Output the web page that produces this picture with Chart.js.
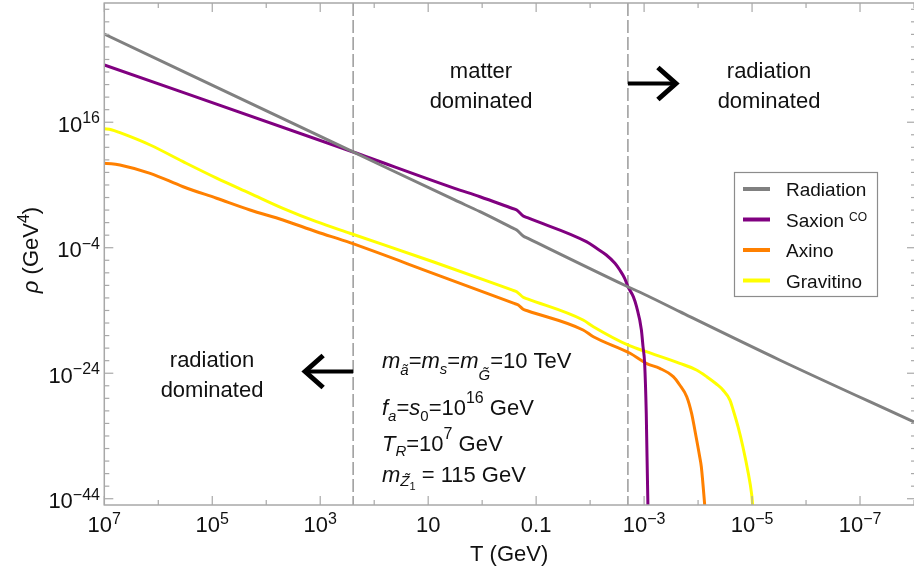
<!DOCTYPE html>
<html>
<head>
<meta charset="utf-8">
<script src="https://cdn.jsdelivr.net/npm/chart.js@4.4.0/dist/chart.umd.min.js"></script>
<style>
  body { margin: 0; background: #fff; }
  #wrap { width: 914px; height: 575px; }
</style>
</head>
<body>
<div id="wrap"><canvas id="rho" width="914" height="575"></canvas></div>
<script>
// energy densities vs temperature, stored as log10 T (GeV) and log10 rho (GeV^4)
const radLogT   = [7, 2.39, 0.51, 0.04, -0.55, -0.64, -0.76, -0.85, -2.67, -3.07, -3.66, -5.51, -8];
const radLogRho = [30.06, 11.26, 3.61, 1.74, -0.79, -1.18, -2.13, -2.51, -10.10, -11.69, -14.19, -21.89, -31.77];

const saxLogT   = [7, 2.39, 0.51, 0.04, -0.55, -0.64, -0.76, -0.85, -1.93, -2.12, -2.30, -2.46, -2.55, -2.64, -2.70, -2.80, -2.86, -2.95, -2.98, -3.01, -3.04, -3.07, -3.08];
const saxLogRho = [25.12, 11.26, 5.47, 4.13, 2.29, 2.01, 1.06, 0.74, -3.04, -4.09, -5.16, -6.48, -7.55, -8.87, -10.21, -11.80, -13.40, -17.11, -19.77, -22.42, -30.39, -44.73, -47];

const axiLogT   = [7, 6.87, 6.71, 6.15, 5.54, 4.92, 4.30, 3.69, 3.07, 2.45, 0.91, -0.58, -0.67, -0.76, -0.85, -1.87, -2.06, -2.74, -3.04, -3.29, -3.54, -3.66, -3.79, -3.88, -3.94, -4.03, -4.06, -4.12, -4.14];
const axiLogRho = [9.45, 9.40, 9.18, 7.86, 5.72, 3.88, 2.01, 0.42, -1.45, -3.20, -8.08, -12.84, -13.13, -13.81, -14.08, -17.11, -18.18, -20.82, -22.42, -23.22, -24.55, -25.88, -27.74, -30.39, -33.05, -37.30, -38.90, -44.73, -47];

const graLogT   = [7, 6.87, 6.71, 6.15, 5.54, 4.92, 4.30, 3.69, 3.07, 2.45, 0.91, -0.55, -0.64, -0.76, -0.85, -1.87, -2.06, -2.74, -3.04, -3.66, -3.97, -4.16, -4.34, -4.46, -4.59, -4.65, -4.74, -4.83, -4.93, -4.99, -5.01, -5.02];
const graLogRho = [14.95, 14.80, 14.33, 12.37, 9.71, 7.09, 4.67, 2.28, 0.15, -1.70, -6.23, -10.73, -11.01, -11.90, -12.19, -15.52, -16.59, -19.66, -20.57, -22.42, -23.49, -24.55, -25.72, -26.67, -28.27, -29.86, -32.52, -35.71, -39.95, -43.14, -45, -47];

const seriesNames = ['Radiation', 'Saxion', 'Axino', 'Gravitino'];
const seriesSup   = ['', 'CO', '', ''];
const seriesColors = ['#808080', '#800080', '#ff8000', '#ffff00'];

// matter / radiation domination boundaries, log10 T
const boundaryLogT = [2.39, -2.70];

// axis ticks (log10) and their labels [base, exponent]
const xMajor = [7, 5, 3, 1, -1, -3, -5, -7];
const xTickLabels = [['10', '7'], ['10', '5'], ['10', '3'], ['10', ''], ['0.1', ''], ['10', '\u22123'], ['10', '\u22125'], ['10', '\u22127']];
const yMajor = [16, -4, -24, -44];
const yTickLabels = [['10', '16'], ['10', '\u22124'], ['10', '\u221224'], ['10', '\u221244']];

const FAM = '"Liberation Sans", Arial, sans-serif';
function fnt(size, italic) { return (italic ? 'italic ' : '') + size + 'px ' + FAM; }

function pts(xs, ys) { return xs.map((v, i) => ({ x: v, y: ys[i] })); }

// draw a run of [text, font, dy] pieces starting at x (or centred / right-aligned)
function runs(ctx, x, y, parts, align) {
  let w = 0;
  parts.forEach(p => { ctx.font = p[1]; w += ctx.measureText(p[0]).width; });
  let cx = align === 'center' ? x - w / 2 : align === 'right' ? x - w : x;
  parts.forEach(p => {
    ctx.font = p[1];
    ctx.fillText(p[0], cx, y + (p[2] || 0));
    cx += ctx.measureText(p[0]).width;
  });
}

function seg(ctx, x1, y1, x2, y2) {
  ctx.beginPath(); ctx.moveTo(x1, y1); ctx.lineTo(x2, y2); ctx.stroke();
}

function arrow(ctx, x0, y, dir) {
  ctx.save();
  ctx.strokeStyle = '#000';
  ctx.lineCap = 'butt';
  ctx.lineJoin = 'miter';
  ctx.lineWidth = 4;
  seg(ctx, x0, y, x0 + dir * 46, y);
  ctx.lineWidth = 5;
  ctx.beginPath();
  ctx.moveTo(x0 + dir * 30, y - 16);
  ctx.lineTo(x0 + dir * 48, y);
  ctx.lineTo(x0 + dir * 30, y + 16);
  ctx.stroke();
  ctx.restore();
}

const decor = {
  id: 'decor',
  beforeDatasetsDraw(chart) {
    const { ctx, chartArea: a, scales: { x } } = chart;
    ctx.save();
    ctx.strokeStyle = '#a0a0a0';
    ctx.lineWidth = 1.6;
    ctx.setLineDash([13, 4]);
    boundaryLogT.forEach(v => {
      const px = x.getPixelForValue(v);
      seg(ctx, px, a.top, px, a.bottom);
    });
    ctx.restore();
  },
  afterDraw(chart) {
    const { ctx, chartArea: a, scales: { x, y } } = chart;
    const right = a.right + 2;
    ctx.save();

    // frame and inward ticks
    ctx.strokeStyle = '#a8a8a8';
    ctx.lineWidth = 1.5;
    ctx.strokeRect(a.left, a.top, right - a.left, a.bottom - a.top);
    ctx.lineWidth = 1.2;
    for (let e = -8; e <= 7; e++) {
      const px = x.getPixelForValue(e);
      const len = xMajor.includes(e) ? 9 : 5;
      seg(ctx, px, a.bottom, px, a.bottom - len);
      seg(ctx, px, a.top, px, a.top + len);
    }
    for (let e = -44; e <= 34; e += 2) {
      const py = y.getPixelForValue(e);
      const len = yMajor.includes(e) ? 9 : 5;
      seg(ctx, a.left, py, a.left + len, py);
      seg(ctx, right, py, right - len, py);
    }

    // tick labels
    ctx.fillStyle = '#111';
    ctx.textBaseline = 'alphabetic';
    xMajor.forEach((e, i) => {
      const l = xTickLabels[i];
      runs(ctx, x.getPixelForValue(e), a.bottom + 27, [[l[0], fnt(22)], [l[1], fnt(16), -8.5]], 'center');
    });
    yMajor.forEach((e, i) => {
      const l = yTickLabels[i];
      const py = y.getPixelForValue(e) + 9.5;
      runs(ctx, 100, py, [[l[0], fnt(22)], [l[1], fnt(16), -8.5]], 'right');
    });

    // axis titles
    runs(ctx, (a.left + a.right) / 2, 561, [['T (GeV)', fnt(22)]], 'center');
    ctx.save();
    ctx.translate(38, 250);
    ctx.rotate(-Math.PI / 2);
    runs(ctx, 0, 0, [['\u03c1', fnt(22, true)], [' (GeV', fnt(22)], ['4', fnt(16), -9], [')', fnt(22)]], 'center');
    ctx.restore();

    // era labels and arrows
    const b1 = x.getPixelForValue(boundaryLogT[0]);
    const b2 = x.getPixelForValue(boundaryLogT[1]);
    runs(ctx, 481, 78, [['matter', fnt(22)]], 'center');
    runs(ctx, 481, 108, [['dominated', fnt(22)]], 'center');
    runs(ctx, 769, 78, [['radiation', fnt(22)]], 'center');
    runs(ctx, 769, 108, [['dominated', fnt(22)]], 'center');
    runs(ctx, 212, 367, [['radiation', fnt(22)]], 'center');
    runs(ctx, 212, 397, [['dominated', fnt(22)]], 'center');
    arrow(ctx, b2, 83.5, 1);
    arrow(ctx, b1, 371.5, -1);

    // model parameters
    const px0 = 382;
    runs(ctx, px0, 368, [
      ['m', fnt(22, true)], ['\u00e3', fnt(15, true), 7], ['=', fnt(22)],
      ['m', fnt(22, true)], ['s', fnt(15, true), 6], ['=', fnt(22)],
      ['m', fnt(22, true)], ['G\u0303', fnt(15, true), 12], ['=10 TeV', fnt(22)]
    ]);
    runs(ctx, px0, 415, [
      ['f', fnt(22, true)], ['a', fnt(15, true), 6], ['=', fnt(22)],
      ['s', fnt(22, true)], ['0', fnt(15), 6], ['=10', fnt(22)],
      ['16', fnt(16), -12], [' GeV', fnt(22)]
    ]);
    runs(ctx, px0, 451, [
      ['T', fnt(22, true)], ['R', fnt(15, true), 5], ['=10', fnt(22)],
      ['7', fnt(16), -12], [' GeV', fnt(22)]
    ]);
    runs(ctx, px0, 482, [
      ['m', fnt(22, true)], ['Z\u0303', fnt(15, true), 4], ['1', fnt(11), 8],
      [' = 115 GeV', fnt(22)]
    ]);

    // legend
    const lx = 734.5, ly = 172.5, lw = 143, lh = 124;
    ctx.fillStyle = '#fff';
    ctx.fillRect(lx, ly, lw, lh);
    ctx.strokeStyle = '#8c8c8c';
    ctx.lineWidth = 1.2;
    ctx.strokeRect(lx, ly, lw, lh);
    seriesNames.forEach((name, i) => {
      const ry = 189 + i * 30.5;
      ctx.strokeStyle = seriesColors[i];
      ctx.lineWidth = 4;
      seg(ctx, 743, ry, 770, ry);
      ctx.fillStyle = '#111';
      ctx.font = fnt(19);
      ctx.fillText(name, 786, ry + 7);
      if (seriesSup[i]) {
        const w = ctx.measureText(name).width;
        ctx.font = fnt(12);
        ctx.fillText(seriesSup[i], 786 + w + 5, ry + 1.5);
      }
    });
    ctx.restore();
  }
};

const series = [
  pts(radLogT, radLogRho),
  pts(saxLogT, saxLogRho),
  pts(axiLogT, axiLogRho),
  pts(graLogT, graLogRho)
];

new Chart(document.getElementById('rho'), {
  type: 'line',
  data: {
    datasets: series.map((d, i) => ({
      label: seriesNames[i],
      data: d,
      borderColor: seriesColors[i],
      borderWidth: 3,
      borderJoinStyle: 'round',
      pointRadius: 0,
      fill: false,
      clip: 0,
      cubicInterpolationMode: 'monotone'
    }))
  },
  options: {
    responsive: false,
    animation: false,
    devicePixelRatio: 1,
    layout: { padding: { left: 104.3, right: 0, top: 3, bottom: 70 } },
    plugins: { legend: { display: false }, tooltip: { enabled: false } },
    scales: {
      x: { type: 'linear', min: -8, max: 7, reverse: true, display: false },
      y: { type: 'linear', min: -45, max: 35, display: false }
    }
  },
  plugins: [decor]
});
</script>
</body>
</html>
